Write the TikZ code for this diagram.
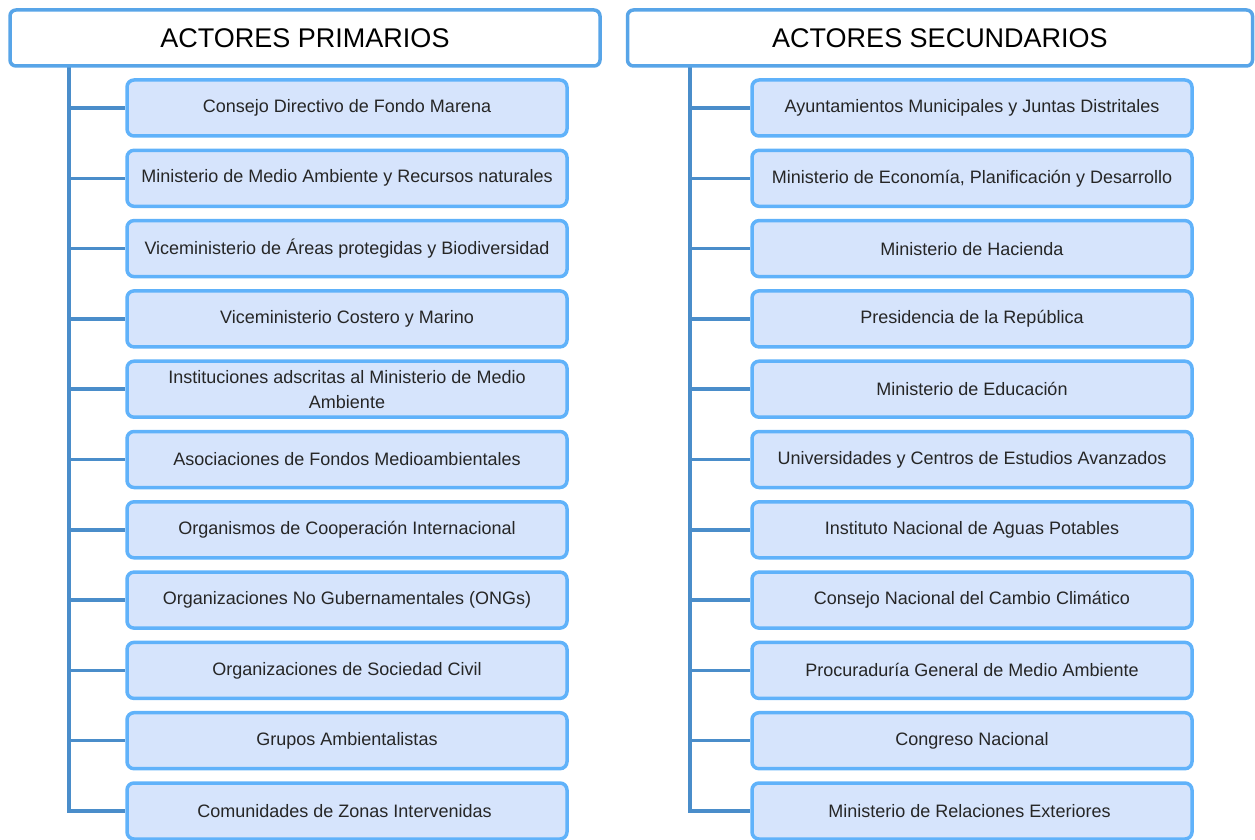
\documentclass[tikz,border=0pt]{standalone}
\usepackage{fontspec}
\setmainfont{Liberation Sans}

\tikzset{
    headbox/.style={draw=headblue, line width=3.5pt, rounded corners=6pt, fill=white,
        minimum height=56pt, inner sep=0pt, font=\fontsize{27}{31}\selectfont},
    childbox/.style={draw=boxblue, line width=3.5pt, rounded corners=7pt, fill=boxfill,
        minimum width=440pt, minimum height=56pt, inner sep=1pt, align=center,
        font=\fontsize{18}{25}\selectfont, text=black!85},
    conn/.style={draw=linkblue, line width=3.5pt}
}

\begin{document}
\begin{tikzpicture}[x=1pt,y=-1pt]
        % Define colors
        \definecolor{headblue}{RGB}{88,165,232}
        \definecolor{boxblue}{RGB}{96,178,250}
        \definecolor{boxfill}{RGB}{214,228,252}
        \definecolor{linkblue}{RGB}{74,141,202}

        \useasboundingbox (0,0) rectangle (1255,840);

        % Trunk start points
        \coordinate (tp) at (69,60);
        \coordinate (ts) at (690,60);

        % Primary actors
        \foreach [count=\i] \t in {
            Consejo Directivo de Fondo Marena,
            Ministerio de Medio Ambiente y Recursos naturales,
            Viceministerio de Áreas protegidas y Biodiversidad,
            Viceministerio Costero y Marino,
            Instituciones adscritas al Ministerio de Medio\\Ambiente,
            Asociaciones de Fondos Medioambientales,
            Organismos de Cooperación Internacional,
            Organizaciones No Gubernamentales (ONGs),
            Organizaciones de Sociedad Civil,
            Grupos Ambientalistas,
            Comunidades de Zonas Intervenidas
        } {
            \node[childbox] (p\i) at (347,{108+70.3*(\i-1)}) {\t};
        }

        % Secondary actors
        \foreach [count=\i] \t in {
            Ayuntamientos Municipales y Juntas Distritales,
            {Ministerio de Economía, Planificación y Desarrollo},
            Ministerio de Hacienda,
            Presidencia de la República,
            Ministerio de Educación,
            Universidades y Centros de Estudios Avanzados,
            Instituto Nacional de Aguas Potables,
            Consejo Nacional del Cambio Climático,
            Procuraduría General de Medio Ambiente,
            Congreso Nacional,
            Ministerio de Relaciones Exteriores
        } {
            \node[childbox] (s\i) at (972,{108+70.3*(\i-1)}) {\t};
        }

        % Draw connectors
        \draw[conn] (tp) |- (p11.west);
        \draw[conn] (ts) |- (s11.west);
        \foreach \i in {1,...,10} {
            \draw[conn] (tp |- p\i.west) -- (p\i.west);
            \draw[conn] (ts |- s\i.west) -- (s\i.west);
        }

        % Headers (drawn over the trunk ends)
        \node[headbox, minimum width=590pt] (hp) at (305,38) {ACTORES PRIMARIOS};
        \node[headbox, minimum width=625pt] (hs) at (940,38) {ACTORES SECUNDARIOS};

\end{tikzpicture}
\end{document}
